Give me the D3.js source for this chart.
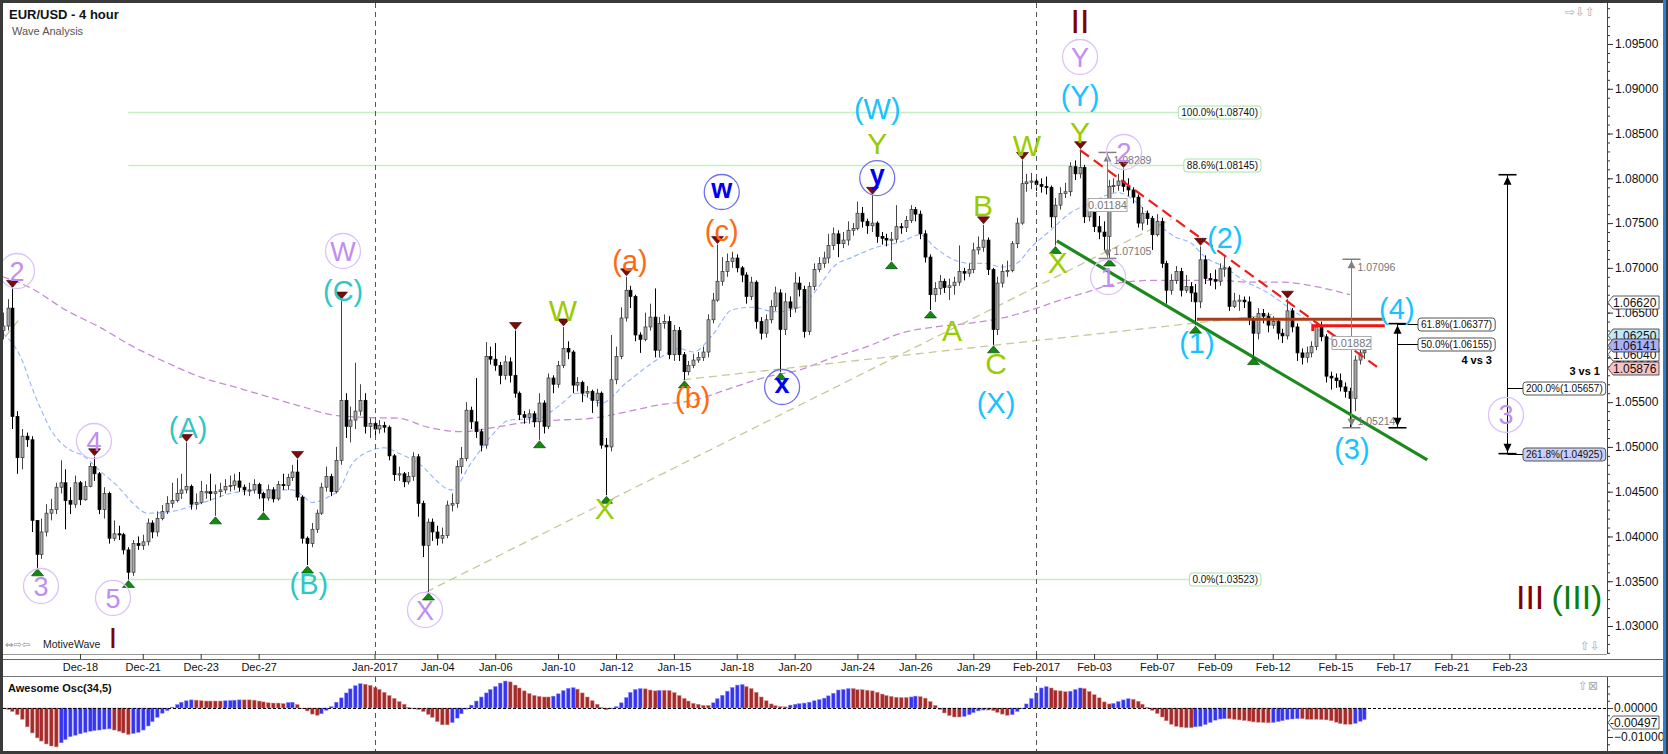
<!DOCTYPE html>
<html><head><meta charset="utf-8">
<script src="https://cdn.jsdelivr.net/npm/d3@7"></script>
<style>
html,body{margin:0;padding:0;background:#fff;overflow:hidden;}
svg{display:block;font-family:"Liberation Sans",Arial,sans-serif;}
</style></head><body>
<svg id="c" width="1668" height="754"></svg>
<script>
// ---------- DATA (prices in pips above 1.0000, e.g. 635 = 1.0635) ----------
const firstOpen = 630;
const closes = [
635,655,534,488,512,508,418,380,405,426,
430,455,460,440,436,460,441,456,478,470,
430,448,398,403,402,385,360,392,390,394,
415,405,420,428,437,440,448,452,456,436,
438,450,450,448,450,452,456,457,462,455,
452,452,458,448,443,452,442,458,457,466,
472,444,398,392,408,426,455,467,450,485,
552,523,530,540,552,523,526,520,524,522,
490,469,470,461,467,489,437,390,416,405,
398,401,435,437,478,487,541,528,517,502,
601,598,591,580,595,580,560,536,533,537,
528,549,523,577,570,591,610,606,569,572,
560,562,552,560,502,500,575,601,644,675,
668,625,620,634,645,608,638,640,603,630,
603,584,591,597,600,606,642,664,685,696,
707,711,700,692,668,684,640,627,642,657,
672,631,662,655,683,676,629,679,698,705,
711,725,738,727,731,742,744,761,752,747,
750,735,733,731,732,746,745,753,765,760,
738,712,670,677,685,678,680,684,696,694,
698,720,723,731,698,631,683,696,697,727,
750,794,796,797,793,791,790,757,770,783,
785,813,805,812,757,764,746,740,735,791,
792,797,791,787,779,750,761,755,737,752,
705,675,686,696,675,679,672,662,709,688,
687,685,699,700,657,663,664,662,642,627,
649,646,636,640,627,624,652,634,605,600,
605,612,634,623,579,577,574,567,562,554,
597,605,608];
const highs = [
650,665,677,540,520,516,512,418,420,436,
442,460,485,475,455,468,462,462,482,489,
472,455,450,418,412,404,388,396,400,402,
420,418,428,435,445,460,465,470,505,458,
448,462,458,470,458,460,464,468,470,472,
458,460,464,460,450,458,455,462,470,470,
480,486,446,400,415,430,460,478,470,500,
664,560,545,594,570,560,532,530,530,528,
524,492,478,472,472,494,492,440,420,420,
412,410,440,448,485,500,550,545,577,520,
617,612,616,595,602,600,630,562,540,542,
540,560,552,582,580,596,634,618,608,578,
574,568,564,565,562,510,625,612,656,690,
680,670,628,650,660,677,645,648,646,636,
634,606,596,604,606,612,648,672,726,712,
716,718,715,702,695,690,686,645,648,664,
679,676,672,668,695,690,680,684,705,712,
718,738,745,742,740,752,750,774,768,755,
781,752,740,738,740,770,750,758,770,768,
764,742,715,684,692,688,688,690,725,700,
705,728,735,748,734,700,690,704,708,730,
756,820,805,806,800,800,802,792,778,790,
795,818,820,832,815,772,765,758,752,798,
800,805,811,800,790,782,768,764,758,760,
756,708,693,702,700,692,684,682,724,714,
694,698,705,712,702,672,670,668,668,645,
655,654,650,646,642,632,665,655,638,610,
612,618,638,640,626,584,582,582,572,566,
602,612,614];
const lows = [
620,630,520,470,475,500,405,365,375,400,
418,425,448,408,425,432,435,440,455,462,
425,420,392,395,396,380,352,356,385,385,
390,398,400,418,425,432,438,442,448,430,
430,436,442,440,423,444,448,450,452,450,
446,445,448,442,428,440,438,440,452,452,
462,440,392,368,388,404,424,450,445,448,
480,510,505,520,535,515,510,512,515,516,
485,462,462,455,458,462,422,377,338,395,
390,392,398,428,432,470,484,520,510,495,
498,592,585,570,575,572,555,530,526,526,
522,508,515,520,560,566,588,598,560,562,
550,555,538,545,498,446,495,570,598,640,
655,618,605,618,630,600,600,632,598,596,
596,575,580,588,594,596,600,638,662,680,
690,700,695,684,660,664,632,620,622,638,
652,584,625,645,650,668,622,625,675,695,
700,705,720,712,722,725,736,742,745,738,
740,728,726,724,708,728,738,740,750,752,
732,706,653,662,670,672,664,670,680,686,
690,694,715,718,692,614,625,678,690,695,
722,748,785,788,786,784,782,745,725,765,
778,780,798,800,750,752,740,732,720,711,
784,786,785,780,772,745,742,748,720,735,
700,660,670,682,668,672,662,636,655,682,
680,676,680,690,652,655,652,655,636,601,
620,638,628,632,620,616,620,628,596,592,
594,600,608,618,572,564,566,562,555,521,
540,592,598];
// Awesome Oscillator (34,5), in pips
const aoValues = [
-3,-5,-12,-23,-39,-65,-86,-103,-114,-124,
-131,-134,-120,-109,-99,-94,-89,-84,-80,-78,
-76,-73,-72,-76,-80,-86,-91,-88,-84,-76,
-62,-47,-32,-18,-9,3,12,20,25,28,
27,25,24,24,24,24,25,26,27,28,
28,28,27,24,21,18,17,17,15,19,
20,12,0,-10,-21,-25,-20,-8,5,20,
35,52,66,77,84,82,78,71,64,54,
43,33,22,13,2,-2,-5,-12,-22,-32,
-47,-58,-58,-50,-35,-20,-4,10,24,38,
52,64,74,86,93,90,79,69,59,50,
43,40,38,38,41,49,60,68,70,65,
52,38,25,13,2,-6,-2,5,18,36,
54,64,67,66,62,59,61,61,60,53,
43,33,24,16,13,9,9,18,32,44,
58,71,79,81,74,67,54,38,25,14,
8,5,4,10,13,15,17,20,25,29,
34,42,51,62,64,67,67,63,63,61,
59,54,48,43,40,37,36,36,38,41,
39,34,22,9,-5,-17,-26,-31,-31,-29,
-23,-16,-10,-7,-7,-9,-15,-21,-25,-23,
-12,-1,14,33,52,69,74,69,61,59,
56,58,64,69,67,57,46,35,21,14,
16,22,28,32,30,23,13,2,-8,-19,
-31,-44,-56,-63,-66,-68,-68,-65,-63,-57,
-50,-42,-38,-37,-37,-39,-41,-43,-45,-48,
-49,-50,-51,-50,-47,-44,-40,-38,-37,-37,
-39,-39,-39,-40,-41,-44,-49,-54,-56,-56,
-53,-46,-40];
// moving averages read at sample bars
const blueMaBars = [0,4,6,8,10,13,17,20,24,27,30,34,41,48,55,60,62,64,67,70,72,75,79,82,86,93,97,101,105,111,115,119,124,129,136,140,143,147,151,155,160,165,169,172,176,181,186,190,193,197,200,203,207,210,213,217,221,225,231,235,239,243,246,249,253,257,262,267,271,274,278,281];
const blueMaVals = [627,597,567,541,519,500,489,474,455,437,426,427,437,449,452,452,446,438,443,455,478,493,499,493,482,452,482,511,530,532,545,560,549,571,599,610,606,625,653,656,651,656,679,701,712,723,729,737,723,709,705,705,701,705,723,742,761,772,784,772,750,734,728,712,701,686,672,653,638,623,616,608];
const purpleMaBars = [0,6,13,20,27,34,41,48,55,62,68,75,82,88,95,102,109,115,122,129,136,143,151,158,165,172,179,186,193,200,207,213,219,224,231,238,244,252,258,265,272,279];
const purpleMaVals = [690,677,653,634,612,594,578,567,556,545,536,533,532,522,517,522,528,530,532,539,547,552,566,578,586,600,612,627,634,638,644,653,664,672,683,686,686,686,684,684,679,670];
// date axis
const tickLabels = ["Dec-18","Dec-21","Dec-23","Dec-27","Jan-2017","Jan-04","Jan-06","Jan-10","Jan-12","Jan-15","Jan-18","Jan-20","Jan-24","Jan-26","Jan-29","Feb-2017","Feb-03","Feb-07","Feb-09","Feb-12","Feb-15","Feb-17","Feb-21","Feb-23"];
const tickBars = [16,29,41,53,77,90,102,115,127,139,152,164,177,189,201,214,226,239,251,263,276,288,300,312];
const sessionBreakBars = [77,214];
// swing markers
const highMarkBars = [2,19,38,61,70,106,116,129,148,180,203,211,223,232,248,266];
const lowMarkBars = [7,26,44,54,63,88,111,125,141,161,184,192,205,218,229,247,259];
// wave labels
const labelText  = ["2","3","4","5","W","X","Y","2","1","3","(A)","(B)","(C)","W","X","Y","B","A","C","W","X","Y","(a)","(b)","(c)","w","x","y","(W)","(X)","(Y)","(1)","(2)","(3)","(4)","II","I","III","(III)"];
const labelBar   = [2.96,7.93,18.9,22.84,70.47,87.45,223.1,232.2,228.9,311.3,38.4,63.4,70.5,116.0,124.7,181.1,203.0,196.6,205.7,212.1,218.5,223.1,129.9,142.9,148.9,148.9,161.4,181.1,181.1,205.7,223.1,247.3,253.1,279.4,288.7,223.1,22.84,316.3,326.0];
const labelPrice = [1.06965,1.03447,1.05066,1.03313,1.07188,1.03179,1.09355,1.08294,1.06898,1.05357,1.05222,1.03480,1.06753,1.06529,1.04318,1.08394,1.07702,1.06306,1.05937,1.08372,1.07065,1.08517,1.07088,1.05558,1.07423,1.07847,1.05669,1.08003,1.08785,1.05502,1.08930,1.06172,1.07345,1.04988,1.06552,1.09768,1.02877,1.03335,1.03335];
const labelDegree = ["minute","minute","minute","minute","minute","minute","minute","minute","minute","minute","inter","inter","inter","minor","minor","minor","minor","minor","minor","minor","minor","minor","minuette","minuette","minuette","subminuette","subminuette","subminuette","intermediate","intermediate","intermediate","intermediate","intermediate","intermediate","intermediate","primary","primary","primary","cycle"];
// fibonacci levels
const fibNames = ["100.0%","88.6%","0.0%"];
const fibLevels = [1.08740,1.08145,1.03523];
const fibStartBar = 26;
// trend / channel lines as [bar, price]
const khakiLines = [[[0.48,1.06228],[3.79,1.06451]],[[87.7,1.03380],[242.1,1.07546]],[[140.9,1.05750],[263,1.06480]]];
const channelLow = [[218.3,1.07300],[295,1.04854]];
const channelHigh = [[223.1,1.08316],[284.6,1.05893]];
const brownLevel = [[247.3,1.06425],[286.2,1.06425]];
const redLevel = [[271.3,1.06295],[271.3,1.06354],[286.2,1.06354]];
// measurement tools
const measureBars = [228.7,279.2];
const measureTop = [1.08289,1.07096];
const measureBottom = [1.07105,1.05214];
const measureDiff = ["0.01184","0.01882"];
const measureBoxPrice = [1.07702,1.06161];
const fibToolA = {bar:288.7, top:1.06377, bottom:1.05214, names:["61.8%(1.06377)","50.0%(1.06155)"], levels:[1.06377,1.06155], title:"4 vs 3"};
const fibToolB = {bar:311.5, top:1.08040, bottom:1.04925, names:["200.0%(1.05657)","261.8%(1.04925)"], levels:[1.05657,1.04925], title:"3 vs 1"};
// right-axis price tags
const tagValues = [1.06620,1.06250,1.06040,1.06141,1.05876];
const tagFills = ["#ffffff","#c4e8f8","#ffffff","#aab0f4","#f6c2c2"];
const aoTag = -0.00497;

// ---------- SCALES ----------
const svg = d3.select("#c");
const PL=3, PR=1607, PT=3, PB=654, OT=677, OB=751;
const x = d3.scaleLinear().domain([0, 282]).range([2.7, 2.7 + 282*4.829]);
const y = d3.scaleLinear().domain([1.03, 1.095]).range([626, 44]);
const yo = d3.scaleLinear().domain([-0.01, 0]).range([737, 708]);
const pip = v => 1 + v/10000;
const FONT = '"Liberation Sans", Arial, sans-serif';

svg.append("rect").attr("width",1668).attr("height",754).attr("fill","#fff");

const defs = svg.append("defs");
defs.append("clipPath").attr("id","cm").append("rect").attr("x",PL).attr("y",PT).attr("width",PR-PL).attr("height",PB-PT);
defs.append("clipPath").attr("id","co").append("rect").attr("x",PL).attr("y",OT).attr("width",PR-PL).attr("height",OB-OT);

const gm = svg.append("g").attr("clip-path","url(#cm)");
const go = svg.append("g").attr("clip-path","url(#co)");

// fib levels (behind)
const gf = gm.append("g");
fibLevels.forEach((lv,k)=>{
  const yy = Math.round(y(lv))+0.5;
  const t = gf.append("text").attr("x",1258).attr("y",yy).attr("text-anchor","end").attr("dominant-baseline","central")
    .attr("font-size",10).attr("fill","#111").text(fibNames[k]+"("+lv.toFixed(5)+")");
  const bb = t.node().getBBox();
  gf.insert("rect","text").attr("x",bb.x-3).attr("y",yy-6.5).attr("width",bb.width+6).attr("height",13).attr("rx",3)
    .attr("fill","#fff").attr("stroke","#a6e2a6").attr("stroke-width",1);
  gf.insert("line","rect").attr("x1",x(fibStartBar)).attr("x2",bb.x-3).attr("y1",yy).attr("y2",yy)
    .attr("stroke","#c4efc4").attr("stroke-width",1.5);
});

// session separators
sessionBreakBars.forEach(b=>{
  const xx = Math.round(x(b))+0.5;
  svg.append("line").attr("x1",xx).attr("x2",xx).attr("y1",PT).attr("y2",PB).attr("stroke","#555").attr("stroke-dasharray","5,4");
  svg.append("line").attr("x1",xx).attr("x2",xx).attr("y1",OT).attr("y2",OB).attr("stroke","#555").attr("stroke-dasharray","5,4");
});

// moving averages
const maLine = d3.line().x(d=>x(d[0])).y(d=>y(pip(d[1]))).curve(d3.curveMonotoneX);
gm.append("path").attr("d",maLine(purpleMaBars.map((b,i)=>[b,purpleMaVals[i]]))).attr("fill","none")
  .attr("stroke","#c98ad6").attr("stroke-width",1.3).attr("stroke-dasharray","7,4");
gm.append("path").attr("d",maLine(blueMaBars.map((b,i)=>[b,blueMaVals[i]]))).attr("fill","none")
  .attr("stroke","#93b4ff").attr("stroke-width",1.1).attr("stroke-dasharray","5,3");

// khaki trend lines
const tl = d3.line().x(d=>x(d[0])).y(d=>y(d[1]));
khakiLines.forEach(l=>gm.append("path").attr("d",tl(l)).attr("fill","none").attr("stroke","#c9c79a").attr("stroke-width",1.3).attr("stroke-dasharray","8,5"));

// candles
const bars = closes.map((c,i)=>({i, o: i ? closes[i-1] : firstOpen, c, h: highs[i], l: lows[i]}));
const gc = gm.append("g");
gc.selectAll("line").data(bars).join("line")
  .attr("x1",d=>Math.round(x(d.i))+0.5).attr("x2",d=>Math.round(x(d.i))+0.5)
  .attr("y1",d=>y(pip(d.h))).attr("y2",d=>y(pip(d.l)))
  .attr("stroke",d=>d.c>=d.o?"#444":"#000").attr("stroke-width",1);
gc.selectAll("rect").data(bars).join("rect")
  .attr("x",d=>Math.round(x(d.i))-1).attr("width",3)
  .attr("y",d=>y(pip(Math.max(d.o,d.c))))
  .attr("height",d=>Math.max(1.2, y(pip(Math.min(d.o,d.c)))-y(pip(Math.max(d.o,d.c)))))
  .attr("fill",d=>d.c>=d.o?"#a9a9a9":"#000").attr("stroke",d=>d.c>=d.o?"#333":"#000").attr("stroke-width",0.7);

// channel lines
gm.append("path").attr("d",tl(channelLow)).attr("stroke","#1a8a1a").attr("stroke-width",3.2).attr("fill","none");
gm.append("path").attr("d",tl(channelHigh)).attr("stroke","#f01c1c").attr("stroke-width",2.2).attr("stroke-dasharray","11,6").attr("fill","none");
gm.append("path").attr("d",tl(brownLevel)).attr("stroke","#a2401c").attr("stroke-width",3).attr("fill","none");
gm.append("path").attr("d",tl(redLevel)).attr("stroke","#f01414").attr("stroke-width",3).attr("fill","none");

// swing markers
const gk = gm.append("g");
highMarkBars.forEach(b=>{
  const xx = Math.round(x(b))+0.5, yy = y(pip(highs[b]));
  gk.append("path").attr("d",`M${xx-6},${yy-8}L${xx+6},${yy-8}L${xx},${yy-1}Z`).attr("fill","#7d0a0a").attr("stroke","#300").attr("stroke-width",0.6);
});
lowMarkBars.forEach(b=>{
  const xx = Math.round(x(b))+0.5, yy = y(pip(lows[b]));
  gk.append("path").attr("d",`M${xx-6},${yy+8}L${xx+6},${yy+8}L${xx},${yy+1}Z`).attr("fill","#128a12").attr("stroke","#030").attr("stroke-width",0.6);
});

// measurement tools (gray)
const gt = svg.append("g");
measureBars.forEach((b,k)=>{
  const xx = Math.round(x(b))+0.5, yt = y(measureTop[k]), yb = y(measureBottom[k]);
  const col = "#808080";
  gt.append("line").attr("x1",xx).attr("x2",xx).attr("y1",yt).attr("y2",yb).attr("stroke",col);
  gt.append("line").attr("x1",xx-9).attr("x2",xx+9).attr("y1",yt).attr("y2",yt).attr("stroke",col).attr("stroke-width",1.5);
  gt.append("line").attr("x1",xx-9).attr("x2",xx+9).attr("y1",yb).attr("y2",yb).attr("stroke",col).attr("stroke-width",1.5);
  gt.append("path").attr("d",`M${xx},${yt+1.5}L${xx-4},${yt+9}L${xx+4},${yt+9}Z`).attr("fill",col);
  gt.append("path").attr("d",`M${xx},${yb-1.5}L${xx-4},${yb-9}L${xx+4},${yb-9}Z`).attr("fill",col);
  gt.append("text").attr("x",xx+6).attr("y",yt+8).attr("dominant-baseline","central").attr("font-size",10.5).attr("fill","#777").text(measureTop[k].toFixed(5));
  gt.append("text").attr("x",xx+6).attr("y",yb-7).attr("dominant-baseline","central").attr("font-size",10.5).attr("fill","#777").text(measureBottom[k].toFixed(5));
  const yc = y(measureBoxPrice[k]);
  gt.append("rect").attr("x",xx-19.5).attr("y",yc-6.5).attr("width",39).attr("height",13).attr("fill","#fff").attr("stroke","#aaa");
  gt.append("text").attr("x",xx).attr("y",yc).attr("text-anchor","middle").attr("dominant-baseline","central").attr("font-size",11).attr("fill","#777").text(measureDiff[k]);
});

// fib measurement tools (black)
function fibTool(t, levelBoxX, fills, titleX, titleY){
  const xx = Math.round(x(t.bar))+0.5, yt = y(t.top), yb = y(t.bottom);
  gt.append("line").attr("x1",xx).attr("x2",xx).attr("y1",yt).attr("y2",yb).attr("stroke","#000");
  gt.append("line").attr("x1",xx-9).attr("x2",xx+9).attr("y1",yt).attr("y2",yt).attr("stroke","#000").attr("stroke-width",1.6);
  gt.append("line").attr("x1",xx-9).attr("x2",xx+9).attr("y1",yb).attr("y2",yb).attr("stroke","#000").attr("stroke-width",1.6);
  gt.append("path").attr("d",`M${xx},${yt+1.5}L${xx-4},${yt+10}L${xx+4},${yt+10}Z`).attr("fill","#000");
  gt.append("path").attr("d",`M${xx},${yb-1.5}L${xx-4},${yb-10}L${xx+4},${yb-10}Z`).attr("fill","#000");
  t.levels.forEach((lv,k)=>{
    const yy = Math.round(y(lv))+0.5;
    gt.append("line").attr("x1",xx).attr("x2",levelBoxX).attr("y1",yy).attr("y2",yy).attr("stroke","#000");
    const tx = gt.append("text").attr("x",levelBoxX+3).attr("y",yy).attr("dominant-baseline","central").attr("font-size",10).attr("fill","#111").text(t.names[k]);
    const bb = tx.node().getBBox();
    gt.insert("rect","text:last-child").attr("x",levelBoxX).attr("y",yy-6.5).attr("width",bb.width+6).attr("height",13).attr("rx",3)
      .attr("fill",fills[k]).attr("stroke","#555");
  });
  gt.append("text").attr("x",titleX).attr("y",titleY).attr("text-anchor","end").attr("dominant-baseline","central")
    .attr("font-size",11).attr("font-weight","bold").attr("fill","#000").text(t.title);
}
fibTool(fibToolA, 1418, ["#fff","#fff"], 1492, 360);
fibTool(fibToolB, 1523, ["#fff","#c9cff8"], 1600, 371);

// wave labels
const degStyle = {
  minute:{fill:"#c08ef2", size:27, circle:"#dcc2f8"},
  inter:{fill:"#30c6c6", size:29},
  minor:{fill:"#9acb00", size:30},
  minuette:{fill:"#ff6a10", size:29},
  subminuette:{fill:"#0000f0", size:27, circle:"#6f6ff2", bold:true},
  intermediate:{fill:"#18c2ff", size:29},
  primary:{fill:"#800000", size:34},
  cycle:{fill:"#0a800a", size:34}
};
const gw = svg.append("g");
labelText.forEach((t,k)=>{
  const st = degStyle[labelDegree[k]];
  const cx = x(labelBar[k]), cy = y(labelPrice[k]);
  if (st.circle) gw.append("circle").attr("cx",cx).attr("cy",cy).attr("r",17.5).attr("fill","none").attr("stroke",st.circle).attr("stroke-width",1.3);
  const lower = /^[a-z]$/.test(t);
  gw.append("text").attr("x",cx).attr("y",cy).attr("dy", lower ? "-0.12em" : "0.02em")
    .attr("text-anchor","middle").attr("dominant-baseline","central")
    .attr("font-size", (t==="I") ? 30 : st.size).attr("font-weight", st.bold ? "bold" : "normal")
    .attr("fill",st.fill).text(t);
});

// ---------- AXES ----------
const ax = svg.append("g").attr("transform",`translate(${PR},0)`);
const minorTicks = d3.range(1027,1100).map(v=>v/1000);
ax.append("g").call(d3.axisRight(y).tickValues(minorTicks).tickSize(3).tickFormat(""))
  .call(g=>g.select(".domain").remove()).selectAll("line").attr("stroke","#333");
const majorTicks = d3.range(1030,1096,5).map(v=>v/1000);
ax.append("g").call(d3.axisRight(y).tickValues(majorTicks).tickSize(6).tickPadding(2).tickFormat(d3.format(".5f")))
  .call(g=>g.select(".domain").remove())
  .call(g=>g.selectAll("text").attr("font-size",12).attr("font-family",FONT).attr("fill","#111"))
  .selectAll("line").attr("stroke","#333");
svg.append("line").attr("x1",PR+0.5).attr("x2",PR+0.5).attr("y1",PT).attr("y2",PB).attr("stroke","#444");

// price tags
tagValues.forEach((v,k)=>{
  const yy = Math.round(y(v))+0.5;
  svg.append("path").attr("d",`M${PR+1},${yy}L${PR+6},${yy-6.5}L1659,${yy-6.5}L1659,${yy+6.5}L${PR+6},${yy+6.5}Z`)
    .attr("fill",tagFills[k]).attr("stroke","#333").attr("stroke-width",0.8);
  svg.append("text").attr("x",1613).attr("y",yy).attr("dominant-baseline","central").attr("font-size",12).attr("fill","#111").text(v.toFixed(5));
});

// panel borders
svg.append("line").attr("x1",PL).attr("x2",PR).attr("y1",PB+0.5).attr("y2",PB+0.5).attr("stroke","#999");
svg.append("line").attr("x1",PL).attr("x2",1663).attr("y1",PB+5.5).attr("y2",PB+5.5).attr("stroke","#666");
svg.append("line").attr("x1",PL).attr("x2",1663).attr("y1",OT-0.5).attr("y2",OT-0.5).attr("stroke","#777");

// date axis
svg.append("g").attr("transform",`translate(0,${PB})`)
  .call(d3.axisBottom(x).tickValues(tickBars).tickSize(5).tickPadding(4).tickFormat((d,i)=>tickLabels[i]))
  .call(g=>g.select(".domain").remove())
  .call(g=>g.selectAll("text").attr("font-size",11).attr("font-family",FONT).attr("fill","#111"))
  .selectAll("line").attr("stroke","#333");

// oscillator
go.selectAll("rect").data(aoValues).join("rect")
  .attr("x",(d,i)=>Math.round(x(i))-1.5).attr("width",3.6)
  .attr("y",d=> d>=0 ? yo(d/10000) : yo(0))
  .attr("height",d=> Math.max(0.8, Math.abs(yo(d/10000)-yo(0))))
  .attr("fill",(d,i)=> (i>0 && d>aoValues[i-1]) ? "#3434f2" : "#a62a2a")
  .attr("stroke",(d,i)=> (i>0 && d>aoValues[i-1]) ? "#8f8ff8" : "#d28a8a").attr("stroke-width",0.5);
svg.append("line").attr("x1",PL).attr("x2",PR).attr("y1",yo(0)+0.5).attr("y2",yo(0)+0.5).attr("stroke","#000").attr("stroke-dasharray","3,2");
svg.append("line").attr("x1",PR+0.5).attr("x2",PR+0.5).attr("y1",OT).attr("y2",OB).attr("stroke","#444");
const aoTicks = [0.0075,0.005,0.0025,0,-0.0025,-0.005,-0.0075,-0.01,-0.0125];
svg.append("g").attr("transform",`translate(${PR},0)`)
  .call(d3.axisRight(yo).tickValues(aoTicks).tickSize(3).tickFormat(""))
  .call(g=>g.select(".domain").remove()).selectAll("line").attr("stroke","#333");
svg.append("g").attr("transform",`translate(${PR},0)`)
  .call(d3.axisRight(yo).tickValues([0,-0.01]).tickSize(6).tickPadding(1).tickFormat(d3.format(".5f")))
  .call(g=>g.select(".domain").remove())
  .call(g=>g.selectAll("text").attr("font-size",12).attr("font-family",FONT).attr("fill","#111"))
  .selectAll("line").attr("stroke","#333");
{
  const yy = Math.round(yo(aoTag))+0.5;
  svg.append("path").attr("d",`M${PR+1},${yy}L${PR+6},${yy-6.5}L1659,${yy-6.5}L1659,${yy+6.5}L${PR+6},${yy+6.5}Z`)
    .attr("fill","#fff").attr("stroke","#333").attr("stroke-width",0.8);
  svg.append("text").attr("x",1610).attr("y",yy).attr("dominant-baseline","central").attr("font-size",12).attr("fill","#111").text(aoTag.toFixed(5));
}
svg.append("text").attr("x",8).attr("y",692).attr("font-size",11).attr("font-weight","bold").attr("fill","#111").text("Awesome Osc(34,5)");

// titles and chrome
svg.append("text").attr("x",9).attr("y",19).attr("font-size",13).attr("font-weight","bold").attr("fill","#111").text("EUR/USD - 4 hour");
svg.append("text").attr("x",12).attr("y",35).attr("font-size",11).attr("fill","#555").text("Wave Analysis");
svg.append("text").attr("x",5).attr("y",648).attr("font-size",10).attr("font-family","DejaVu Sans").attr("fill","#888").text("⇔⇨⇦");
svg.append("text").attr("x",43).attr("y",648).attr("font-size",10.5).attr("fill","#222").text("MotiveWave");
svg.append("text").attr("x",1565).attr("y",16).attr("font-size",12).attr("font-family","DejaVu Sans").attr("fill","#aaa").text("⇨⇩⇧");
svg.append("text").attr("x",1580).attr("y",650).attr("font-size",12).attr("font-family","DejaVu Sans").attr("fill","#aaa").text("⇧⇩");
svg.append("text").attr("x",1578).attr("y",690).attr("font-size",12).attr("font-family","DejaVu Sans").attr("fill","#aaa").text("⇧⊠");

// outer frame
svg.append("rect").attr("x",0).attr("y",0).attr("width",1668).attr("height",3).attr("fill","#3a3a3a");
svg.append("rect").attr("x",0).attr("y",0).attr("width",3).attr("height",754).attr("fill","#3a3a3a");
svg.append("rect").attr("x",0).attr("y",751).attr("width",1668).attr("height",3).attr("fill","#3a3a3a");
svg.append("rect").attr("x",1663).attr("y",0).attr("width",3).attr("height",754).attr("fill","#2b7fd6");
svg.append("rect").attr("x",1666).attr("y",0).attr("width",2).attr("height",754).attr("fill","#3a3a3a");
</script>
</body></html>
